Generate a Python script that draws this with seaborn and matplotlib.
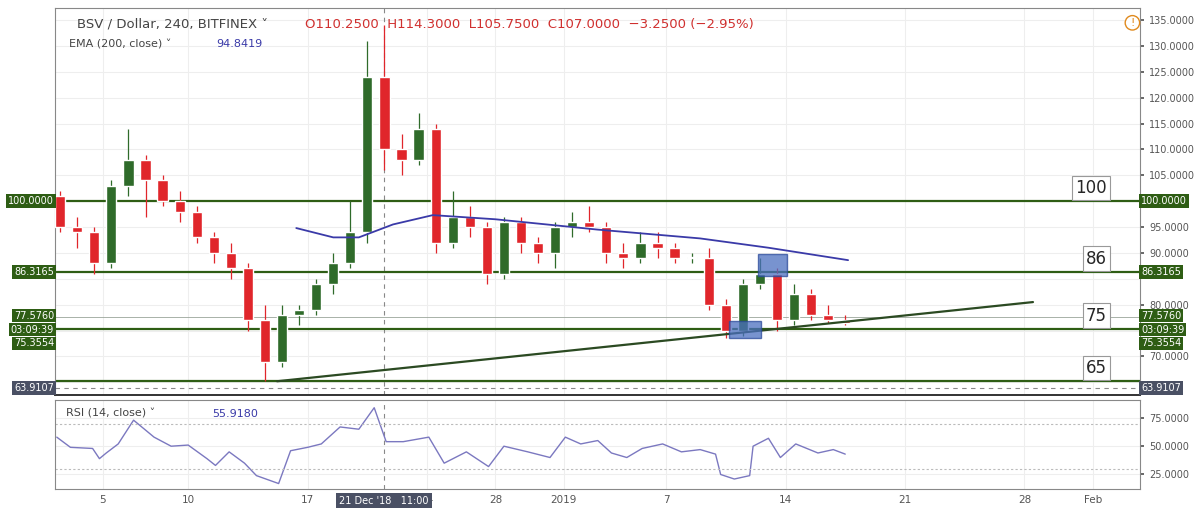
import numpy as np
import pandas as pd
import seaborn as sns
import matplotlib.pyplot as plt
import matplotlib.dates as mdates
from matplotlib.patches import Rectangle

sns.set_theme(style="white")
plt.rcParams['font.family'] = ['DejaVu Sans']

# daily candles (Dec 2 2018 .. Jan 17 2019)
dates = pd.date_range("2018-12-02", "2019-01-17", freq="D")
opens = [101, 95, 94, 88, 103, 108, 104, 100, 98, 93, 90, 87, 77, 69, 78, 79, 84, 88, 94, 124,
         110, 108, 114, 92, 97, 95, 86, 96, 92, 90, 95, 96, 95, 90, 89, 92, 91, 89, 89, 80,
         75, 84, 86, 77, 82, 78, 77]
highs = [102, 97, 95, 104, 114, 109, 105, 102, 99, 94, 92, 88, 80, 80, 80, 85, 90, 100, 131, 134,
         113, 117, 115, 102, 99, 96, 97, 97, 93, 96, 98, 99, 96, 92, 94, 94, 92, 90, 91, 81,
         85, 89, 87, 84, 83, 80, 78]
lows = [94, 91, 86, 87, 101, 97, 99, 96, 92, 88, 85, 75, 65.2, 68, 76, 78, 82, 87, 92, 106,
        105, 107, 90, 91, 93, 84, 85, 90, 88, 87, 93, 94, 88, 87, 88, 89, 88, 88, 79, 73.5,
        74, 83, 75, 76, 77, 76.5, 76]
closes = [95, 94, 88, 103, 108, 104, 100, 98, 93, 90, 87, 77, 69, 78, 79, 84, 88, 94, 124, 110,
          108, 114, 92, 97, 95, 86, 96, 92, 90, 95, 96, 95, 90, 89, 92, 91, 89, 89, 80, 75,
          84, 86, 77, 82, 78, 77, 76.5]

ema_dates = pd.to_datetime(["2018-12-16 08:00", "2018-12-18 12:00", "2018-12-20 00:00", "2018-12-22 00:00",
                            "2018-12-24 08:00", "2018-12-28 00:00", "2019-01-03 00:00", "2019-01-09 00:00",
                            "2019-01-13 00:00", "2019-01-17 16:00"])
ema_vals = [94.8, 93.0, 93.0, 95.5, 97.3, 96.5, 94.5, 92.8, 91.0, 88.6]

rsi_days = [1.3, 2.1, 3.4, 3.8, 4.2, 4.9, 5.8, 7.0, 8.0, 9.0, 10.1, 10.6, 11.4, 12.3, 13.0, 14.3,
            15.0, 16.0, 16.8, 17.9, 19.0, 19.9, 20.6, 21.6, 23.1, 24.0, 25.3, 26.6, 27.5, 28.9,
            30.2, 31.1, 32.0, 33.0, 33.8, 34.7, 35.6, 36.8, 37.9, 39.0, 39.9, 40.2, 41.0, 41.9,
            42.1, 43.0, 43.7, 44.6, 45.9, 46.8, 47.5]
rsi_vals = [58, 49, 48, 39, 44, 52, 73, 58, 50, 51, 39, 33, 45, 35, 24, 17, 46, 49, 52, 67, 65,
            84, 54, 54, 58, 35, 45, 32, 50, 45, 40, 58, 52, 55, 44, 40, 48, 52, 45, 47, 43, 25,
            21, 24, 50, 57, 40, 52, 44, 47, 43]
rsi_dates = pd.Timestamp("2018-12-01") + pd.to_timedelta(rsi_days, unit="D")

levels = [100.0, 86.3165, 75.3554, 65.2]
level_names = ["100", "86", "75", "65"]
trend_dates = pd.to_datetime(["2018-12-15 05:00", "2019-01-28 12:00"])
trend_vals = [65.2, 80.5]
boxes = [("2019-01-10 16:00", "2019-01-12 13:00", 73.5, 76.9),
         ("2019-01-12 10:00", "2019-01-14 02:00", 85.5, 89.7)]
price_ticks = [70, 80, 90, 95, 105, 110, 115, 120, 125, 130, 135]

green = "#2e5d14"
up_c, dn_c = "#2f6b2a", "#e0262b"

fig = plt.figure(figsize=(12, 5.08), dpi=100)
ax = fig.add_axes([0.046, 0.222, 0.904, 0.762])
ar = fig.add_axes([0.046, 0.037, 0.904, 0.176], sharex=ax)

# candles
x = dates + pd.Timedelta(hours=12)
for xi, o, h, l, c in zip(x, opens, highs, lows, closes):
    col = up_c if c >= o else dn_c
    ax.vlines(xi, l, h, color=col, lw=0.9, zorder=3)
    ax.bar(xi, abs(c - o) or 0.3, bottom=min(o, c), width=0.6, color=col, zorder=4)

sns.lineplot(x=ema_dates, y=ema_vals, ax=ax, color="#3a3aa8", lw=1.3, zorder=5)

for lv, nm in zip(levels, level_names):
    ax.axhline(lv, color=green, lw=1.6, zorder=2)
    ax.text(pd.Timestamp("2019-02-01 20:00"), lv + 0.8, nm, ha="right", va="bottom", fontsize=12,
            bbox=dict(boxstyle="square,pad=0.2", fc="white", ec="#999999", lw=0.8), zorder=6)
ax.axhline(77.576, color="#9aa59a", lw=0.6, zorder=2)
ax.axhline(63.9107, color="#888888", lw=0.8, ls=(0, (4, 4)), zorder=2)
ax.plot(trend_dates, trend_vals, color="#2b4a22", lw=1.6, zorder=5)
for a, b, lo, hi in boxes:
    a, b = mdates.date2num(pd.Timestamp(a)), mdates.date2num(pd.Timestamp(b))
    ax.add_patch(Rectangle((a, lo), b - a, hi - lo, fc="#4b6fc0", ec="#2a4a9a", alpha=0.75, zorder=6))

cross = pd.Timestamp("2018-12-21 11:00")
for a in (ax, ar):
    a.axvline(cross, color="#888888", lw=0.8, ls=(0, (4, 4)), zorder=1)

ax.set_ylim(62.5, 137.3)
ax.set_yticks(price_ticks)
ax.set_xlim(pd.Timestamp("2018-12-02 05:00"), pd.Timestamp("2019-02-03 18:30"))

# RSI
sns.lineplot(x=rsi_dates, y=rsi_vals, ax=ar, color="#7b78c0", lw=1.0)
for lv in (70, 30):
    ar.axhline(lv, color="#bbbbbb", lw=0.8, ls=(0, (2, 2)))
ar.set_ylim(12, 91)
ar.set_yticks([25, 50, 75])

tick_dates = pd.to_datetime(["2018-12-05", "2018-12-10", "2018-12-17", "2018-12-24", "2018-12-28",
                             "2019-01-01", "2019-01-07", "2019-01-14", "2019-01-21", "2019-01-28",
                             "2019-02-01"])
tick_labels = ["5", "10", "17", "24", "28", "2019", "7", "14", "21", "28", "Feb"]
ar.set_xticks(tick_dates)
ar.set_xticklabels(tick_labels)

for a in (ax, ar):
    a.yaxis.tick_right()
    a.yaxis.set_major_formatter(plt.FuncFormatter(lambda v, p: f"{v:.4f}"))
    a.tick_params(axis="y", labelsize=7, colors="#555555", length=3, right=True)
    a.tick_params(axis="x", labelsize=7.5, colors="#555555", pad=1, length=3)
    a.set_xlabel("")
    a.set_ylabel("")
    a.grid(True, color="#eeeeee", lw=0.8)
    for s in a.spines.values():
        s.set_color("#888888")
        s.set_linewidth(0.8)
ax.set_yticks(np.arange(65, 136, 5), minor=True)
ax.grid(True, which="minor", axis="y", color="#eeeeee", lw=0.8)
ax.tick_params(axis="y", which="minor", length=0)
plt.setp(ax.get_xticklabels(), visible=False)
ax.tick_params(axis="x", length=0)
ax.spines["bottom"].set_color("#333333")
ax.spines["bottom"].set_linewidth(1.4)

# price tags on both sides (stacked like the screen labels)
tags = [(100.0, "100.0000", green), (86.3165, "86.3165", green), (77.9, "77.5760", green),
        (75.2, "03:09:39", green), (72.5, "75.3554", green), (63.9107, "63.9107", "#4a5064")]
for y, t, c in tags:
    for xa, ha in ((-0.001, "right"), (1.001, "left")):
        ax.text(xa, y, t, transform=ax.get_yaxis_transform(), ha=ha, va="center", fontsize=7,
                color="white", bbox=dict(boxstyle="square,pad=0.2", fc=c, ec="none"), zorder=7)

# header
ax.text(0.02, 0.975, "BSV / Dollar, 240, BITFINEX \u02c5", transform=ax.transAxes, fontsize=9.5,
        color="#444444", va="top")
ax.text(0.23, 0.975, "O110.2500  H114.3000  L105.7500  C107.0000  \u22123.2500 (\u22122.95%)",
        transform=ax.transAxes, fontsize=9.5, color="#d0302f", va="top")
ax.text(0.013, 0.92, "EMA (200, close) \u02c5", transform=ax.transAxes, fontsize=8, color="#444444", va="top")
ax.text(0.148, 0.92, "94.8419", transform=ax.transAxes, fontsize=8, color="#3a3aa8", va="top")
ax.text(0.993, 0.975, "!", transform=ax.transAxes, fontsize=8, color="#e08a1e", ha="center", va="top",
        bbox=dict(boxstyle="circle,pad=0.2", fc="white", ec="#e08a1e"))
ar.text(0.01, 0.9, "RSI (14, close) \u02c5", transform=ar.transAxes, fontsize=8, color="#444444", va="top")
ar.text(0.145, 0.9, "55.9180", transform=ar.transAxes, fontsize=8, color="#3a3aa8", va="top")
ar.text(cross, -0.08, "21 Dec '18   11:00", transform=ar.get_xaxis_transform(), ha="center", va="top",
        fontsize=7, color="white", bbox=dict(boxstyle="square,pad=0.35", fc="#4a5064", ec="none"), zorder=8)

fig.savefig("out.png", dpi=100)
